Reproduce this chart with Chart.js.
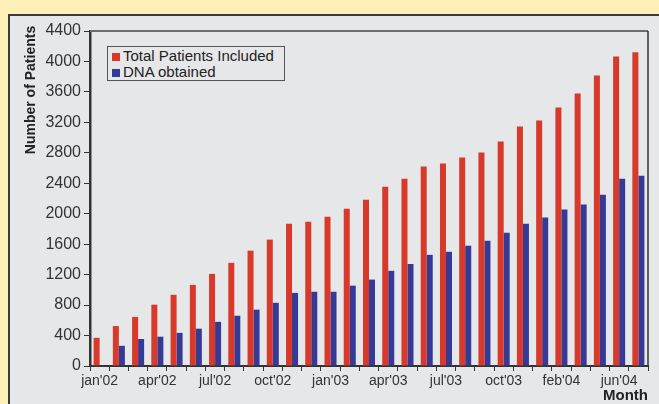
<!DOCTYPE html>
<html>
<head>
<meta charset="utf-8">
<script src="https://cdn.jsdelivr.net/npm/chart.js@4"></script>
<style>
  html, body { margin: 0; padding: 0; }
  body { width: 659px; height: 404px; background: #fef0b6; position: relative; overflow: hidden; font-family: "Liberation Sans", Arial, sans-serif; }
  #panel { position: absolute; left: 8px; top: 14px; width: 700px; height: 420px; background: #e6e7e9; border-left: 2px solid #3a3a3a; border-top: 2px solid #3a3a3a; }
  #wrap { position: absolute; left: 0; top: 0; width: 659px; height: 404px; }
  #legend { position: absolute; left: 107px; top: 46px; width: 176px; height: 33px; border: 1px solid #555; background: #e6e7e9; font-size: 15px; color: #222; }
  #legend div { height: 16px; line-height: 16px; padding-left: 4px; white-space: nowrap; }
  #legend span { display: inline-block; width: 8px; height: 8px; margin-right: 3px; }
</style>
</head>
<body>
<div id="panel"></div>
<div id="wrap"><canvas id="myChart" width="659" height="404"></canvas></div>
<div id="legend">
  <div style="margin-top:1px"><span style="background:#d7392b"></span>Total Patients Included</div>
  <div><span style="background:#343a96"></span>DNA obtained</div>
</div>
<script>
// months on the x axis (only every third one is labelled)
const months = [
  "jan'02", "feb'02", "mar'02", "apr'02", "may'02", "jun'02", "jul'02", "aug'02", "sep'02", "oct'02", "nov'02", "dec'02",
  "jan'03", "feb'03", "mar'03", "apr'03", "may'03", "jun'03", "jul'03", "aug'03", "sep'03", "oct'03", "nov'03", "dec'03",
  "feb'04", "mar'04", "may'04", "jun'04", "jul'04"
];
const totalPatients = [
  370, 525, 645, 805, 935, 1065, 1210, 1355, 1515, 1660, 1870, 1895,
  1960, 2065, 2185, 2355, 2460, 2620, 2660, 2740, 2805, 2950, 3145, 3225,
  3395, 3580, 3815, 4065, 4120
];
const dnaObtained = [
  0, 265, 355, 385, 435, 490, 580, 660, 740, 830, 960, 975,
  975, 1055, 1135, 1250, 1340, 1460, 1500, 1580, 1645, 1750, 1870, 1950,
  2055, 2120, 2250, 2460, 2500
];
const yTicks = [0, 400, 800, 1200, 1600, 2000, 2400, 2800, 3200, 3600, 4000, 4400];

const frame = {
  id: 'frame',
  afterDraw(chart) {
    const { ctx, chartArea: a } = chart;
    ctx.save();
    ctx.strokeStyle = '#6d6d6d';
    ctx.lineWidth = 2;
    ctx.beginPath();
    ctx.moveTo(a.left, a.top);
    ctx.lineTo(a.right, a.top);
    ctx.stroke();
    ctx.strokeStyle = '#333';
    ctx.lineWidth = 1.5;
    ctx.beginPath();
    ctx.moveTo(a.right, a.top);
    ctx.lineTo(a.right, a.bottom);
    ctx.stroke();
    // axis titles
    ctx.fillStyle = '#222';
    ctx.font = 'bold 15px "Liberation Sans", Arial, sans-serif';
    ctx.textAlign = 'right';
    ctx.textBaseline = 'alphabetic';
    ctx.fillText('Month', a.right, 400);
    ctx.font = 'bold 14px "Liberation Sans", Arial, sans-serif';
    ctx.translate(35, 90);
    ctx.rotate(-Math.PI / 2);
    ctx.textAlign = 'center';
    ctx.fillText('Number of Patients', 0, 0);
    ctx.restore();
  }
};

const ctx = document.getElementById('myChart').getContext('2d');
new Chart(ctx, {
  type: 'bar',
  data: {
    labels: months,
    datasets: [
      { label: 'Total Patients Included', data: totalPatients, backgroundColor: '#d7392b' },
      { label: 'DNA obtained', data: dnaObtained, backgroundColor: '#343a96' }
    ]
  },
  options: {
    responsive: false,
    animation: false,
    categoryPercentage: 0.625,
    barPercentage: 1,
    layout: { padding: { left: 0, top: 31, right: 11, bottom: 0 } },
    plugins: { legend: { display: false }, tooltip: { enabled: false } },
    scales: {
      x: {
        grid: { display: true, drawOnChartArea: false, drawTicks: true, tickLength: 5, color: '#333', offset: true },
        border: { color: '#333', width: 2 },
        ticks: {
          autoSkip: false, maxRotation: 0, color: '#333', padding: 2,
          font: { family: '"Liberation Sans", Arial, sans-serif', size: 14 },
          callback: (v, i) => (i % 3 === 0 ? months[i] : '')
        },
        afterFit: s => { s.height = 38; }
      },
      y: {
        min: 0, max: 4400,
        afterBuildTicks: s => { s.ticks = yTicks.map(v => ({ value: v })); },
        grid: { display: true, drawOnChartArea: false, drawTicks: true, tickLength: 6, color: '#333' },
        border: { color: '#333', width: 2.5 },
        ticks: {
          color: '#333', padding: 3,
          font: { family: '"Liberation Sans", Arial, sans-serif', size: 16 },
          callback: v => String(v)
        },
        afterFit: s => { s.width = 90; }
      }
    }
  },
  plugins: [frame]
});
</script>
</body>
</html>
